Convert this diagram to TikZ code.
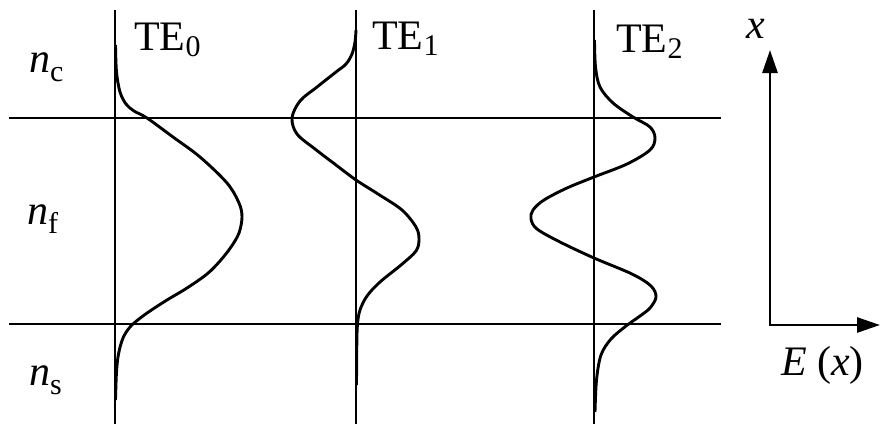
\documentclass[tikz,border=0pt]{standalone}
\usepackage{fontspec}
\setmainfont{Liberation Serif}
\usetikzlibrary{arrows.meta}
\newcommand{\tesub}[1]{\raisebox{-6pt}{\fontsize{30}{30}\selectfont #1}}
\newcommand{\nsub}[1]{\raisebox{-9pt}{\fontsize{30}{30}\selectfont #1}}
\begin{document}
\begin{tikzpicture}[x=1pt,y=-1pt,
  rule/.style={line width=2.6pt},
  wave/.style={line width=2.9pt, line join=round, smooth, tension=0.55},
  lbl/.style={inner sep=0pt, anchor=base west, font=\fontsize{42}{48}\selectfont},
  axes/.style={line width=2.7pt, line join=miter,
    {Triangle[length=23pt,width=15pt]}-{Triangle[length=23pt,width=15pt]}}
]
\useasboundingbox (0,0) rectangle (881,424);
% boundaries
\coordinate (t1) at (9,118);  \coordinate (t2) at (721,118);
\coordinate (b1) at (9,324);  \coordinate (b2) at (721,324);
\draw[rule] (t1) -- (t2);
\draw[rule] (b1) -- (b2);
% mode axes
\coordinate (a0t) at (115,10); \coordinate (a0b) at (115,424);
\coordinate (a1t) at (356,10); \coordinate (a1b) at (356,424);
\coordinate (a2t) at (594,10); \coordinate (a2b) at (594,424);
\draw[rule] (a0t) -- (a0b);
\draw[rule] (a1t) -- (a1b);
\draw[rule] (a2t) -- (a2b);
% TE0
\draw[wave] plot coordinates {(115.5,45) (116.5,72) (120,92) (126,104) (134,111) (147,118)
  (173,137) (200,157) (227,183) (239,203) (242,217) (239,233) (231,247) (220,261) (207,274)
  (187,288) (167,300) (150,311) (139,319) (130,327) (123,338) (118.5,354) (116.5,372) (115.5,400)};
% TE1
\draw[wave] plot coordinates {(356,30) (355,42) (352,54) (346,64) (336,72) (317,87) (300,101)
  (292,118) (297,134) (315,149) (336,165) (356,180) (378,194) (402,210) (416,227) (419,239)
  (416,251) (401,265) (380,282) (367,296) (360,310) (357.5,324) (356.8,345) (356.5,385)};
% TE2
\draw[wave] plot coordinates {(594.5,40) (595.5,67) (600,87) (613,103) (633,117) (650,127)
  (655,138) (650,150) (627,164) (594,177) (567,188) (544,200) (533,210) (531,219) (537,229)
  (560,242) (594,258) (632,274) (651,286) (656,297) (650,308) (640,316) (626,326) (611,339)
  (601,355) (596.5,380) (595,412)};
% axes
\coordinate (xtip) at (770,50);
\coordinate (orig) at (770,325);
\coordinate (etip) at (880,325);
\draw[axes] (xtip) -- (orig) -- (etip);
% labels
\node[lbl] (te0) at (134,50) {TE\tesub{0}};
\node[lbl] (te1) at (372,49) {TE\tesub{1}};
\node[lbl] (te2) at (616,52) {TE\tesub{2}};
\node[lbl] (nc) at (29,72) {\itshape n\nsub{\upshape c}};
\node[lbl] (nf) at (27,224) {\itshape n\nsub{\upshape f}};
\node[lbl] (ns) at (29,385) {\itshape n\nsub{\upshape s}};
\node[lbl] (xl) at (746,38) {\itshape x};
\node[lbl] (el) at (781,375) {\itshape E\upshape\ (\itshape x\upshape)};
\end{tikzpicture}
\end{document}
